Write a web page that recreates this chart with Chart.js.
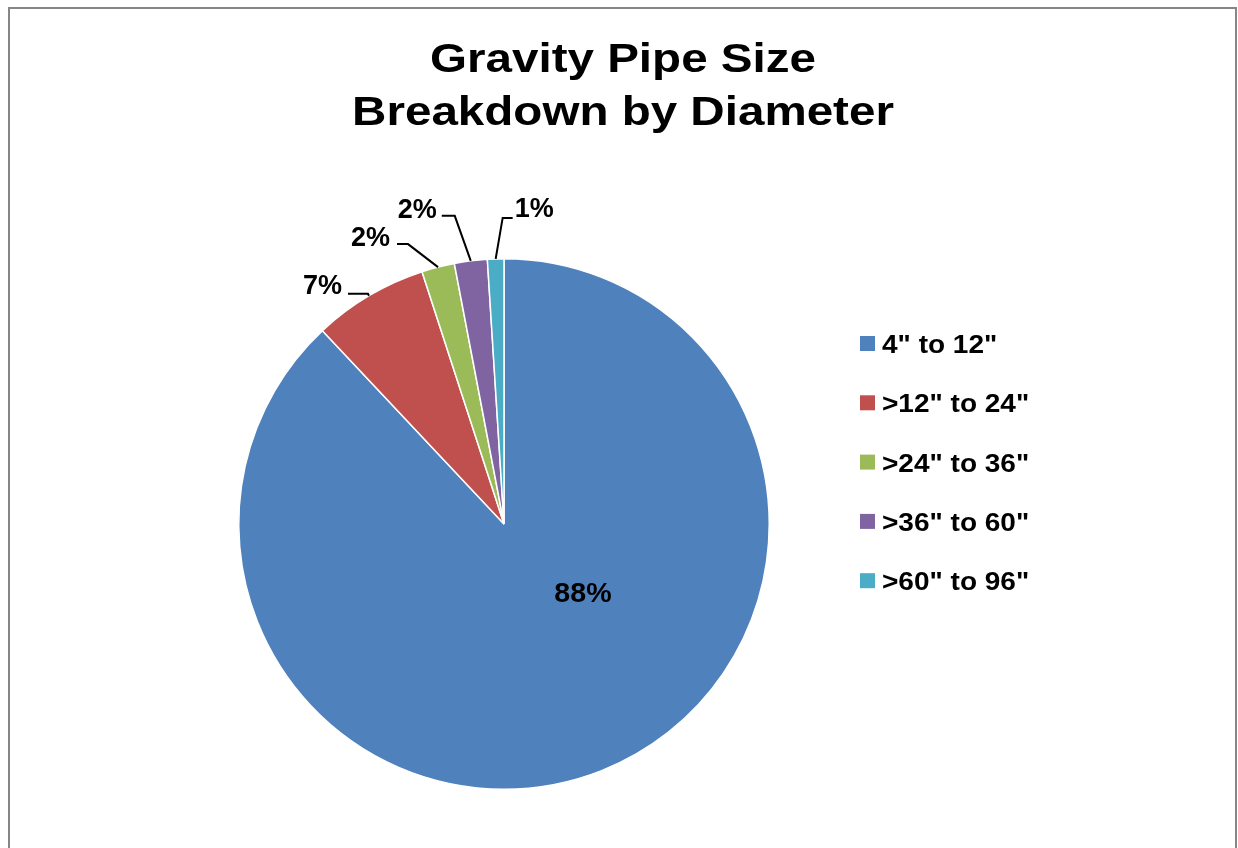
<!DOCTYPE html>
<html>
<head>
<meta charset="utf-8">
<script src="https://cdn.jsdelivr.net/npm/chart.js@4.4.1/dist/chart.umd.min.js"></script>
<style>
html,body{margin:0;padding:0;background:#fff;}
#wrap{position:absolute;left:0;top:0;width:1238px;height:848px;}
</style>
</head>
<body>
<div id="wrap"><canvas id="c" width="1238" height="848"></canvas></div>
<script>
// ---- data ----
const titleLines = ['Gravity Pipe Size', 'Breakdown by Diameter'];
const categories = ['4" to 12"', '>12" to 24"', '>24" to 36"', '>36" to 60"', '>60" to 96"'];
const values = [88, 7, 2, 2, 1];
const colors = ['#4F81BD', '#C0504D', '#9BBB59', '#8064A2', '#4BACC6'];

// ---- label styling (leader line geometry relative to slice edge) ----
const labelStyle = [
  {inside: true, dx: 79, dy: 78},
  {elbow: [-1, -2], end: [-21, -2], text: [-27, -2], align: 'right'},
  {elbow: [-30, -23], end: [-41, -23], text: [-48, -21], align: 'right'},
  {elbow: [-16, -45], end: [-29, -45], text: [-34, -43], align: 'right'},
  {elbow: [7, -41], end: [17, -41], text: [19, -42], align: 'left'}
];
const FONT = '"Liberation Sans", Arial, sans-serif';

function drawText(ctx, txt, x, y, align, sx) {
  ctx.save();
  ctx.translate(x, y);
  ctx.scale(sx, 1);
  ctx.textAlign = align;
  ctx.textBaseline = 'alphabetic';
  ctx.fillText(txt, 0, 0);
  ctx.restore();
}

const decor = {
  id: 'decor',
  beforeDraw(chart) {
    const ctx = chart.ctx;
    ctx.save();
    ctx.fillStyle = '#fff';
    ctx.fillRect(0, 0, chart.width, chart.height);
    ctx.strokeStyle = '#868686';
    ctx.lineWidth = 2;
    ctx.beginPath();
    ctx.moveTo(9, 860);
    ctx.lineTo(9, 8);
    ctx.lineTo(1236, 8);
    ctx.lineTo(1236, 860);
    ctx.stroke();
    ctx.restore();
  },
  afterDraw(chart) {
    const ctx = chart.ctx;
    ctx.save();
    // title
    ctx.fillStyle = '#000';
    ctx.font = 'bold 41px ' + FONT;
    drawText(ctx, titleLines[0], 623, 72, 'center', 1.16);
    drawText(ctx, titleLines[1], 623, 125, 'center', 1.16);

    // data labels
    const meta = chart.getDatasetMeta(0);
    const total = values.reduce((a, b) => a + b, 0);
    ctx.font = 'bold 27px ' + FONT;
    meta.data.forEach((arc, i) => {
      const p = arc.getProps(['x', 'y', 'startAngle', 'endAngle', 'outerRadius']);
      const txt = Math.round(values[i] / total * 100) + '%';
      const st = labelStyle[i];
      if (st.inside) {
        drawText(ctx, txt, p.x + st.dx, p.y + st.dy, 'center', 1.06);
        return;
      }
      const mid = (p.startAngle + p.endAngle) / 2;
      const ax = p.x + Math.cos(mid) * p.outerRadius;
      const ay = p.y + Math.sin(mid) * p.outerRadius;
      ctx.strokeStyle = '#000';
      ctx.lineWidth = 2;
      ctx.beginPath();
      ctx.moveTo(ax, ay);
      ctx.lineTo(ax + st.elbow[0], ay + st.elbow[1]);
      ctx.lineTo(ax + st.end[0], ay + st.end[1]);
      ctx.stroke();
      drawText(ctx, txt, ax + st.text[0], ay + st.text[1], st.align, 1.0);
    });

    // legend
    ctx.font = 'bold 25px ' + FONT;
    categories.forEach((c, i) => {
      const y = 336 + i * 59.3;
      ctx.fillStyle = colors[i];
      ctx.fillRect(860, y, 15, 15);
      ctx.fillStyle = '#000';
      drawText(ctx, c, 882, y + 17, 'left', 1.12);
    });
    ctx.restore();
  }
};

new Chart(document.getElementById('c'), {
  type: 'pie',
  data: {
    labels: categories,
    datasets: [{
      data: values,
      backgroundColor: colors,
      borderColor: '#fff',
      borderWidth: 1.5
    }]
  },
  options: {
    responsive: false,
    animation: false,
    layout: {padding: {left: 238, right: 468, top: 258, bottom: 58}},
    plugins: {legend: {display: false}, title: {display: false}, tooltip: {enabled: false}}
  },
  plugins: [decor]
});
</script>
</body>
</html>
